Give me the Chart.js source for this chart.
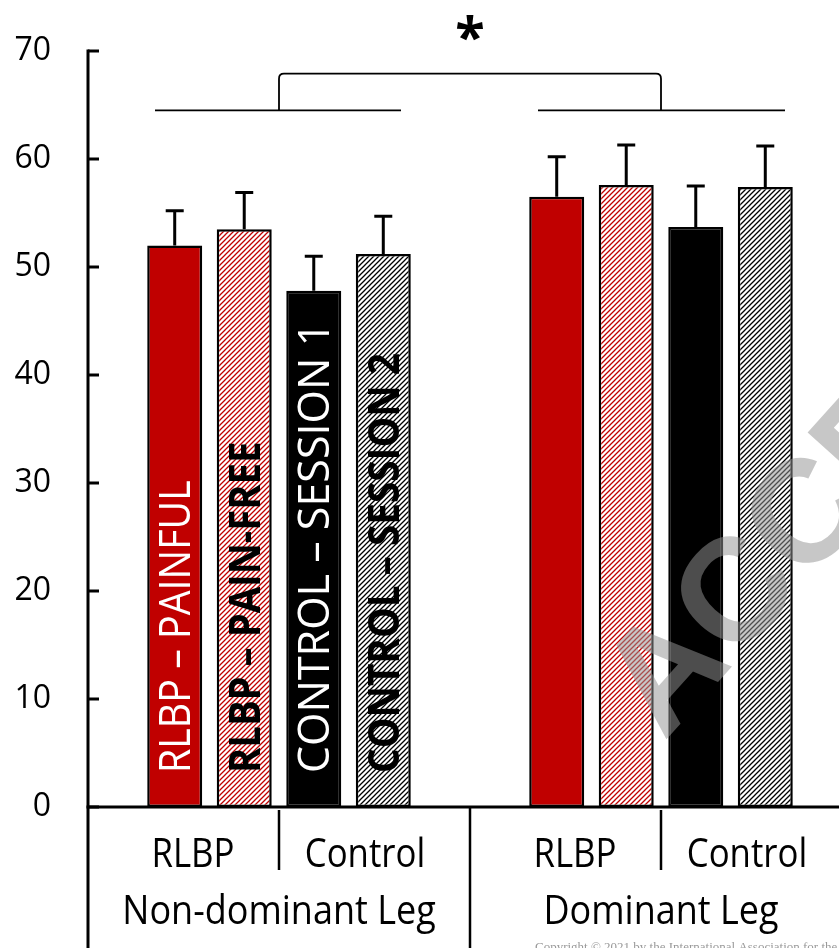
<!DOCTYPE html>
<html><head><meta charset="utf-8">
<script src="https://cdn.jsdelivr.net/npm/chart.js@4/dist/chart.umd.min.js"></script>
<style>
html,body{margin:0;padding:0;background:#fff;overflow:hidden;width:839px;height:948px;}
#wrap{position:absolute;left:0;top:0;width:852px;height:948px;}
</style></head><body>
<div id="wrap"><canvas id="c" width="852" height="948"></canvas></div>
<script>
// ---- data ----
const groups = ['Non-dominant Leg', 'Dominant Leg'];
const subgroups = ['RLBP', 'Control'];
const seriesNames = ['RLBP – PAINFUL', 'RLBP – PAIN-FREE', 'CONTROL – SESSION 1', 'CONTROL – SESSION 2'];
const painful = [52.0, 56.5];
const painFree = [53.5, 57.6];
const session1 = [47.8, 53.7];
const session2 = [51.2, 57.4];
const painfulErr = [3.2, 3.7];
const painFreeErr = [3.4, 3.7];
const session1Err = [3.2, 3.8];
const session2Err = [3.5, 3.8];
const yTicks = [0, 10, 20, 30, 40, 50, 60, 70];
const bracketLow = 64.5;
const bracketHigh = 67.9;
const sigMark = '*';
const watermark = 'ACCEPTED';
const copyright = 'Copyright © 2021 by the International Association for the Study of Pain. Unauthorized reproduction of this article is prohibited.';

// ---- styles ----
const canvas = document.getElementById('c');
const ctx = canvas.getContext('2d');
const FONT = '"Open Sans"';
const RED = '#C00000';
function hatch(color, lw, p) {
  const c = document.createElement('canvas'); c.width = p; c.height = p;
  const x = c.getContext('2d');
  x.fillStyle = '#fff'; x.fillRect(0, 0, p, p);
  x.strokeStyle = color; x.lineWidth = lw; x.lineCap = 'square';
  x.beginPath();
  x.moveTo(-1, p + 1); x.lineTo(p + 1, -1);
  x.moveTo(-2, 2); x.lineTo(2, -2);
  x.moveTo(p - 2, p + 2); x.lineTo(p + 2, p - 2);
  x.stroke();
  return ctx.createPattern(c, 'repeat');
}
const redHatch = hatch(RED, 1.3, 5);
const blackHatch = hatch('#000', 1.3, 5);

const seriesValues = [painful, painFree, session1, session2];
const seriesErrors = [painfulErr, painFreeErr, session1Err, session2Err];
const seriesFill = [RED, redHatch, '#000', blackHatch];
const labelStyle = [
  {color: '#fff', weight: 'normal', squeeze: 0.915},
  {color: '#000', weight: 'bold', squeeze: 0.89},
  {color: '#fff', weight: 'normal', squeeze: 1.0},
  {color: '#000', weight: 'bold', squeeze: 0.9}
];

const datasets = seriesNames.map((n, i) => ({
  label: n,
  data: seriesValues[i],
  errors: seriesErrors[i],
  backgroundColor: seriesFill[i],
  borderColor: '#000',
  borderWidth: 2.5,
  borderSkipped: false,
  categoryPercentage: 0.728,
  barPercentage: 0.791
}));

const overlay = {
  id: 'overlay',
  afterDatasetsDraw(chart) {
    const c = chart.ctx, y = chart.scales.y;
    // error bars
    chart.data.datasets.forEach((ds, di) => {
      chart.getDatasetMeta(di).data.forEach((bar, i) => {
        const top = y.getPixelForValue(ds.data[i] + ds.errors[i]);
        c.save();
        c.strokeStyle = '#000'; c.lineWidth = 3;
        c.beginPath();
        c.moveTo(bar.x, bar.y); c.lineTo(bar.x, top);
        c.moveTo(bar.x - 9, top); c.lineTo(bar.x + 9, top);
        c.stroke();
        c.restore();
      });
    });
    // in-bar series labels (first group)
    const y0 = y.getPixelForValue(0);
    chart.data.datasets.forEach((ds, di) => {
      const bar = chart.getDatasetMeta(di).data[0];
      const st = labelStyle[di];
      const size = 43;
      c.save();
      c.translate(bar.x, y0 - 34);
      c.rotate(-Math.PI / 2);
      c.scale(st.squeeze, 1);
      c.font = st.weight + ' ' + size + 'px ' + FONT;
      c.textBaseline = 'alphabetic';
      c.textAlign = 'left';
      c.fillStyle = st.color;
      c.fillText(ds.label, 0, size * 0.36);
      c.restore();
    });
  },
  afterDraw(chart) {
    const c = chart.ctx, y = chart.scales.y, x = chart.scales.x, a = chart.chartArea;
    const y0 = y.getPixelForValue(0);
    const left = a.left;
    c.save();
    c.strokeStyle = '#000';
    // y axis line (continues through category table)
    c.lineWidth = 3;
    c.beginPath();
    c.moveTo(left, y.getPixelForValue(yTicks[yTicks.length - 1]) - 1.5);
    c.lineTo(left, chart.height);
    c.stroke();
    // inward ticks
    yTicks.forEach(v => {
      const py = y.getPixelForValue(v);
      c.beginPath(); c.moveTo(left, py); c.lineTo(left + 11, py); c.stroke();
    });
    // x axis line
    c.beginPath(); c.moveTo(left - 1.5, y0); c.lineTo(chart.width, y0); c.stroke();
    // category table separators
    const catW = x.getPixelForValue(1) - x.getPixelForValue(0);
    c.lineWidth = 2.5;
    groups.forEach((g, gi) => {
      const cx = x.getPixelForValue(gi);
      const bx = cx + catW / 2;
      if (gi < groups.length - 1) {
        c.beginPath(); c.moveTo(bx, y0); c.lineTo(bx, chart.height); c.stroke();
      }
      c.beginPath(); c.moveTo(cx, y0 + 3); c.lineTo(cx, y0 + 63); c.stroke();
    });
    // category labels
    c.fillStyle = '#000';
    c.textAlign = 'center';
    c.textBaseline = 'alphabetic';
    c.font = '40px ' + FONT;
    groups.forEach((g, gi) => {
      const cx = x.getPixelForValue(gi);
      subgroups.forEach((s, si) => {
        c.save(); c.translate(cx + (si === 0 ? -86 : 86), y0 + 60); c.scale(0.87, 1);
        c.fillText(s, 0, 0); c.restore();
      });
      c.save(); c.translate(cx, y0 + 117); c.scale(0.9, 1);
      c.fillText(g, 0, 0); c.restore();
    });
    // significance bracket
    const yl = y.getPixelForValue(bracketLow), yh = y.getPixelForValue(bracketHigh);
    const c0 = x.getPixelForValue(0), c1 = x.getPixelForValue(1);
    const r = 5;
    c.lineWidth = 1.8;
    c.beginPath();
    c.moveTo(c0 - 124, yl); c.lineTo(c0 + 122, yl);
    c.moveTo(c1 - 123, yl); c.lineTo(c1 + 124, yl);
    c.moveTo(c0, yl); c.lineTo(c0, yh + r);
    c.quadraticCurveTo(c0, yh, c0 + r, yh);
    c.lineTo(c1 - r, yh);
    c.quadraticCurveTo(c1, yh, c1, yh + r);
    c.lineTo(c1, yl);
    c.stroke();
    // asterisk
    c.font = 'bold 54px ' + FONT;
    c.textAlign = 'center';
    c.textBaseline = 'alphabetic';
    const m = c.measureText(sigMark);
    const cy = 28;
    c.fillText(sigMark, (c0 + c1) / 2, cy + (m.actualBoundingBoxAscent - m.actualBoundingBoxDescent) / 2);
    // watermark
    c.save();
    c.translate(664, 742);
    c.rotate(-48 * Math.PI / 180);
    c.font = 'bold 146px "Liberation Sans"';
    c.textAlign = 'left';
    c.fillStyle = 'rgba(148,148,148,0.52)';
    c.fillText(watermark, 0, 0);
    c.restore();
    // copyright line
    c.font = '13px "Liberation Serif"';
    c.textAlign = 'left';
    c.fillStyle = '#999';
    c.fillText(copyright, 535, 951);
    c.restore();
  }
};

new Chart(ctx, {
  type: 'bar',
  data: { labels: groups, datasets },
  options: {
    responsive: false,
    animation: false,
    devicePixelRatio: 1,
    layout: { padding: { top: 51, bottom: 141, left: 0, right: 0 } },
    plugins: { legend: { display: false }, tooltip: { enabled: false } },
    scales: {
      x: { display: false, offset: true },
      y: {
        min: 0, max: 70,
        afterBuildTicks: s => { s.ticks = yTicks.map(v => ({ value: v })); },
        afterFit: s => { s.width = 88; s.paddingTop = 0; s.paddingBottom = 0; },
        grid: { display: false, drawTicks: false },
        border: { display: false },
        ticks: { font: { family: 'Open Sans', size: 32 }, color: '#000', padding: 37 }
      }
    }
  },
  plugins: [overlay]
});
</script>
</body></html>
